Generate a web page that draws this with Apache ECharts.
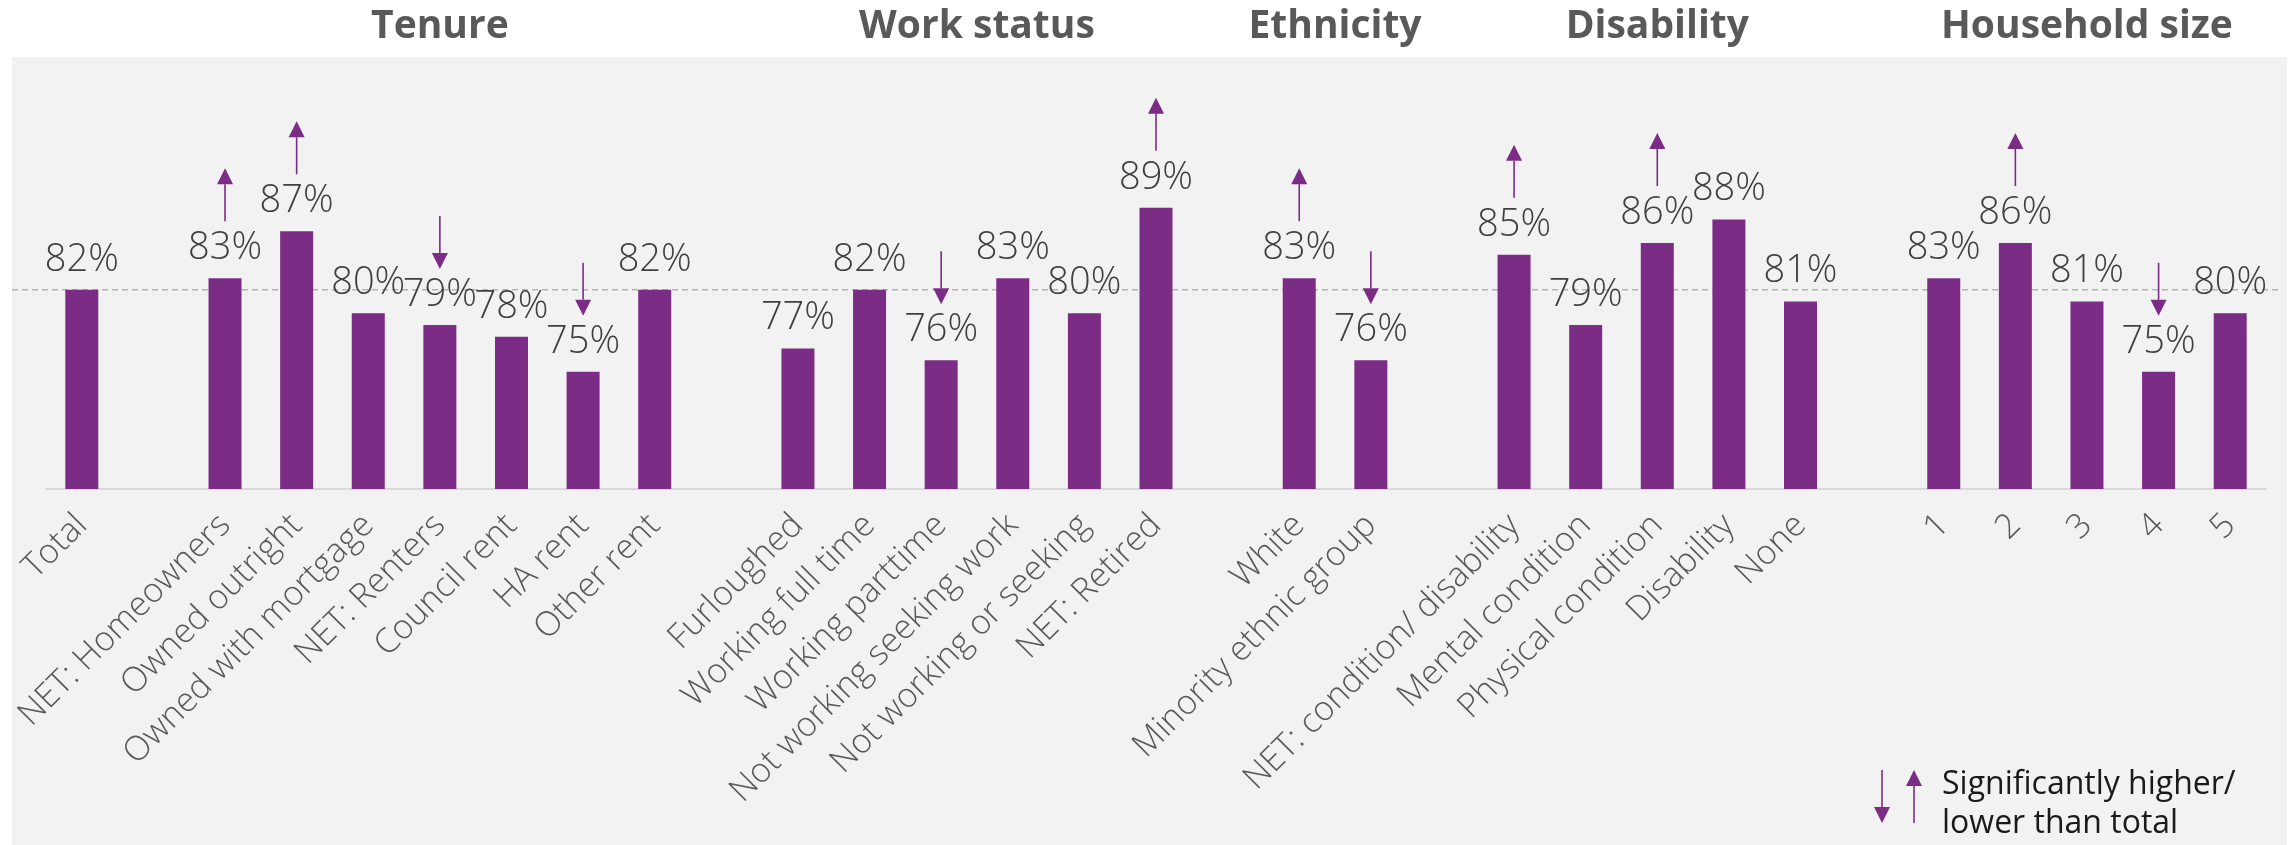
<!DOCTYPE html>
<html>
<head>
<meta charset="utf-8">
<script src="https://cdn.jsdelivr.net/npm/echarts@6/dist/echarts.min.js"></script>
<style>
  html, body { margin: 0; padding: 0; background: #ffffff; }
  #chart { width: 2292px; height: 845px; }
</style>
</head>
<body>
<div id="chart"></div>
<script>
// Categories along the x axis; empty strings are spacers between groups
const categories = [
  'Total', '',
  'NET: Homeowners', 'Owned outright', 'Owned with mortgage', 'NET: Renters', 'Council rent', 'HA rent', 'Other rent', '',
  'Furloughed', 'Working full time', 'Working parttime', 'Not working seeking work', 'Not working or seeking', 'NET: Retired', '',
  'White', 'Minority ethnic group', '',
  'NET: condition/ disability', 'Mental condition', 'Physical condition', 'Disability', 'None', '',
  '1', '2', '3', '4', '5'
];

// Share (%) for each category
const values = [
  82, null,
  83, 87, 80, 79, 78, 75, 82, null,
  77, 82, 76, 83, 80, 89, null,
  83, 76, null,
  85, 79, 86, 88, 81, null,
  83, 86, 81, 75, 80
];

// Significance versus total: 1 = higher, -1 = lower, 0 = not significant
const significance = [
  0, 0,
  1, 1, 0, -1, 0, -1, 0, 0,
  0, 0, -1, 0, 0, 1, 0,
  1, -1, 0,
  1, 0, 1, 0, 0, 0,
  0, 1, 0, -1, 0
];

// Group headings and the category index range each covers
const groupNames = ['Tenure', 'Work status', 'Ethnicity', 'Disability', 'Household size'];
const groupStart = [2, 10, 17, 20, 26];
const groupEnd = [8, 15, 18, 24, 30];

const legendLines = ['Significantly higher/', 'lower than total'];

const PURPLE = '#7B2C85';
const TEXT = '#404040';
const FONT = "'Open Sans', 'Noto Sans', sans-serif";

const arrowData = [];
significance.forEach(function (s, i) {
  if (s !== 0 && values[i] != null) arrowData.push([i, values[i], s]);
});
const groupData = groupNames.map(function (n, i) { return [groupStart[i], groupEnd[i], i]; });

// Draws an arrow (stem + triangular head) between two y positions
function arrowShapes(x, yTail, yTip) {
  const dir = yTip < yTail ? -1 : 1;
  const headH = 16, headW = 8;
  return [
    { type: 'line', shape: { x1: x, y1: yTail, x2: x, y2: yTip - dir * headH },
      style: { stroke: PURPLE, lineWidth: 1.6 } },
    { type: 'polygon', shape: { points: [[x, yTip], [x - headW, yTip - dir * headH], [x + headW, yTip - dir * headH]] },
      style: { fill: PURPLE } }
  ];
}

const chart = echarts.init(document.getElementById('chart'), null, { renderer: 'canvas' });

const option = {
  animation: false,
  backgroundColor: '#ffffff',
  grid: { left: 46, right: 26, top: 79, bottom: 356, containLabel: false },
  xAxis: {
    type: 'category',
    data: categories,
    axisTick: { show: false },
    axisLine: { show: true, lineStyle: { color: '#d9d9d9', width: 2 } },
    axisLabel: {
      interval: 0,
      rotate: 45,
      margin: 31,
      color: '#595959',
      fontSize: 34,
      fontFamily: FONT,
      fontWeight: 300
    }
  },
  yAxis: {
    type: 'value',
    min: 65,
    max: 100,
    show: false,
    splitLine: { show: false }
  },
  series: [
    {
      type: 'bar',
      data: values,
      barWidth: 33,
      itemStyle: { color: PURPLE },
      z: 3,
      label: {
        show: true,
        position: 'top',
        distance: 11,
        formatter: '{c}%',
        color: TEXT,
        fontSize: 38,
        lineHeight: 38,
        fontFamily: FONT,
        fontWeight: 300
      }
    },
    {
      type: 'custom',
      data: arrowData,
      z: 4,
      silent: true,
      renderItem: function (params, api) {
        const p = api.coord([api.value(0), api.value(1)]);
        const dir = api.value(2);
        const x = p[0], top = p[1];
        const shapes = dir > 0 ? arrowShapes(x, top - 57, top - 110) : arrowShapes(x, top - 109, top - 56);
        return { type: 'group', children: shapes };
      }
    },
    {
      type: 'custom',
      data: groupData,
      z: 5,
      silent: true,
      renderItem: function (params, api) {
        const a = api.coord([api.value(0), 65]);
        const b = api.coord([api.value(1), 65]);
        return {
          type: 'text',
          style: {
            text: groupNames[api.value(2)],
            x: (a[0] + b[0]) / 2,
            y: 27,
            align: 'center',
            verticalAlign: 'middle',
            fontSize: 39,
            fontWeight: 'bold',
            fontFamily: FONT,
            fill: '#595959'
          }
        };
      }
    }
  ]
};

chart.setOption(option);

// Reference line at the total value, across the panel, plus the arrow key
const totalY = chart.convertToPixel({ yAxisIndex: 0 }, values[0]);
chart.setOption({
  graphic: [
    { type: 'rect', z: -10, shape: { x: 12, y: 57, width: 2275, height: 788 }, style: { fill: '#f2f2f2' } },
    { type: 'line', z: 1, shape: { x1: 12, y1: totalY, x2: 2280, y2: totalY },
      style: { stroke: '#b3b3b3', lineWidth: 1.5, lineDash: [6, 4] } },
    { type: 'group', z: 10, children: arrowShapes(1882, 770, 823) },
    { type: 'group', z: 10, children: arrowShapes(1914, 823, 770) },
    { type: 'text', z: 10, style: { text: legendLines[0], x: 1942, y: 785, verticalAlign: 'middle',
      fontSize: 32, fontFamily: FONT, fill: '#1a1a1a' } },
    { type: 'text', z: 10, style: { text: legendLines[1], x: 1942, y: 824, verticalAlign: 'middle',
      fontSize: 32, fontFamily: FONT, fill: '#1a1a1a' } }
  ]
});
</script>
</body>
</html>
